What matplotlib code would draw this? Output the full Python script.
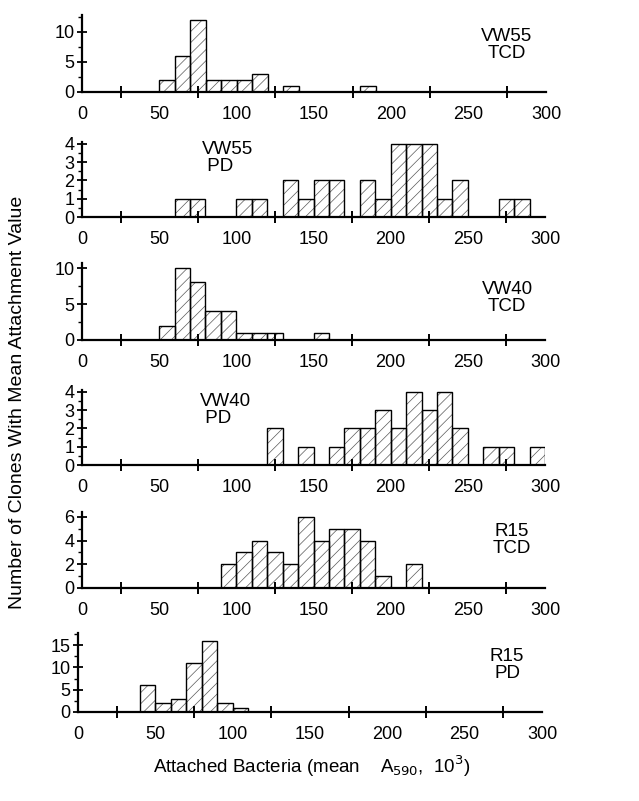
import matplotlib
matplotlib.use("Agg")
import matplotlib.pyplot as plt
import numpy as np
from matplotlib.ticker import MultipleLocator, FixedLocator

plt.rcParams['font.family'] = ['Liberation Sans', 'DejaVu Sans']
plt.rcParams['hatch.linewidth'] = 0.5

bin_width = 10
x_tick_labels = [0, 50, 100, 150, 200, 250, 300]

vw55_tcd_bins = [50, 60, 70, 80, 90, 100, 110, 130, 180]
vw55_tcd_counts = [2, 6, 12, 2, 2, 2, 3, 1, 1]

vw55_pd_bins = [60, 70, 100, 110, 130, 140, 150, 160, 180, 190, 200, 210, 220, 230, 240, 270, 280]
vw55_pd_counts = [1, 1, 1, 1, 2, 1, 2, 2, 2, 1, 4, 4, 4, 1, 2, 1, 1]

vw40_tcd_bins = [50, 60, 70, 80, 90, 100, 110, 120, 150]
vw40_tcd_counts = [2, 10, 8, 4, 4, 1, 1, 1, 1]

vw40_pd_bins = [120, 140, 160, 170, 180, 190, 200, 210, 220, 230, 240, 260, 270, 290]
vw40_pd_counts = [2, 1, 1, 2, 2, 3, 2, 4, 3, 4, 2, 1, 1, 1]

r15_tcd_bins = [90, 100, 110, 120, 130, 140, 150, 160, 170, 180, 190, 210]
r15_tcd_counts = [2, 3, 4, 3, 2, 6, 4, 5, 5, 4, 1, 2]

r15_pd_bins = [40, 50, 60, 70, 80, 90, 100]
r15_pd_counts = [6, 2, 3, 11, 16, 2, 1]

panels = [
    ("VW55\nTCD", vw55_tcd_bins, vw55_tcd_counts, [0, 5, 10], 12.8, 'right'),
    ("VW55\n PD", vw55_pd_bins, vw55_pd_counts, [0, 1, 2, 3, 4], 4.1, 'left'),
    ("VW40\nTCD", vw40_tcd_bins, vw40_tcd_counts, [0, 5, 10], 10.7, 'right'),
    ("VW40\n PD", vw40_pd_bins, vw40_pd_counts, [0, 1, 2, 3, 4], 4.1, 'left'),
    ("R15\nTCD", r15_tcd_bins, r15_tcd_counts, [0, 2, 4, 6], 6.4, 'right'),
    ("R15\nPD", r15_pd_bins, r15_pd_counts, [0, 5, 10, 15], 17.7, 'right'),
]

W, H = 639, 801
fig = plt.figure(figsize=(W / 100, H / 100), dpi=100)

# pixel geometry (left, right, top-of-axis, zero-line)
geom = [
    (82, 546, 15, 92),
    (82, 545, 142, 217),
    (82, 545, 263, 340),
    (82, 545, 390, 465),
    (82, 545, 512, 588),
    (78, 542, 633, 712),
]
label_pos = [
    (507, 45), (202, 158), (507, 298), (200, 410), (512, 540), (507, 665),
]

FS = 13.5
for (txt, bins, counts, yt, ytop, side), (l, r, t, z), (lx, ly) in zip(panels, geom, label_pos):
    ax = fig.add_axes([l / W, 1 - z / H, (r - l) / W, (z - t) / H])
    ax.bar(bins, counts, width=bin_width, align='edge', facecolor='white',
           edgecolor='0.35', linewidth=0, hatch='///')
    ax.bar(bins, counts, width=bin_width, align='edge', fill=False,
           edgecolor='black', linewidth=1.0)
    ax.set_xlim(0, 300)
    ax.set_ylim(0, ytop)
    for s in ['top', 'right']:
        ax.spines[s].set_visible(False)
    ax.spines['left'].set_linewidth(1.6)
    ax.spines['bottom'].set_linewidth(1.6)
    ax.set_xticks(x_tick_labels)
    ax.set_xticklabels([str(v) for v in x_tick_labels])
    ax.xaxis.set_minor_locator(FixedLocator([25, 75, 125, 175, 225, 275, 300]))
    ax.tick_params(axis='x', which='major', length=0, pad=10, labelsize=13)
    ax.tick_params(axis='x', which='minor', direction='inout', length=9, width=1.4)
    ax.set_yticks(yt)
    step = yt[1] - yt[0]
    ax.yaxis.set_minor_locator(MultipleLocator(step / 2))
    ax.tick_params(axis='y', which='major', direction='inout', length=7, width=1.3,
                   labelsize=13, pad=2)
    ax.tick_params(axis='y', which='minor', direction='out', length=3, width=1.0)
    ax.patch.set_alpha(0)
    fig.text(lx / W, 1 - ly / H, txt, ha='left' if side == 'left' else 'center',
             va='center', fontsize=FS, linespacing=1.0)

fig.text(18 / W, 1 - 402 / H, "Number of Clones With Mean Attachment Value",
         rotation=90, ha='center', va='center', fontsize=14)
fig.text(312 / W, 1 - 766 / H, "Attached Bacteria (mean    A$_{590}$,  10$^3$)",
         ha='center', va='center', fontsize=13.5)

fig.savefig("out.png", dpi=100)
